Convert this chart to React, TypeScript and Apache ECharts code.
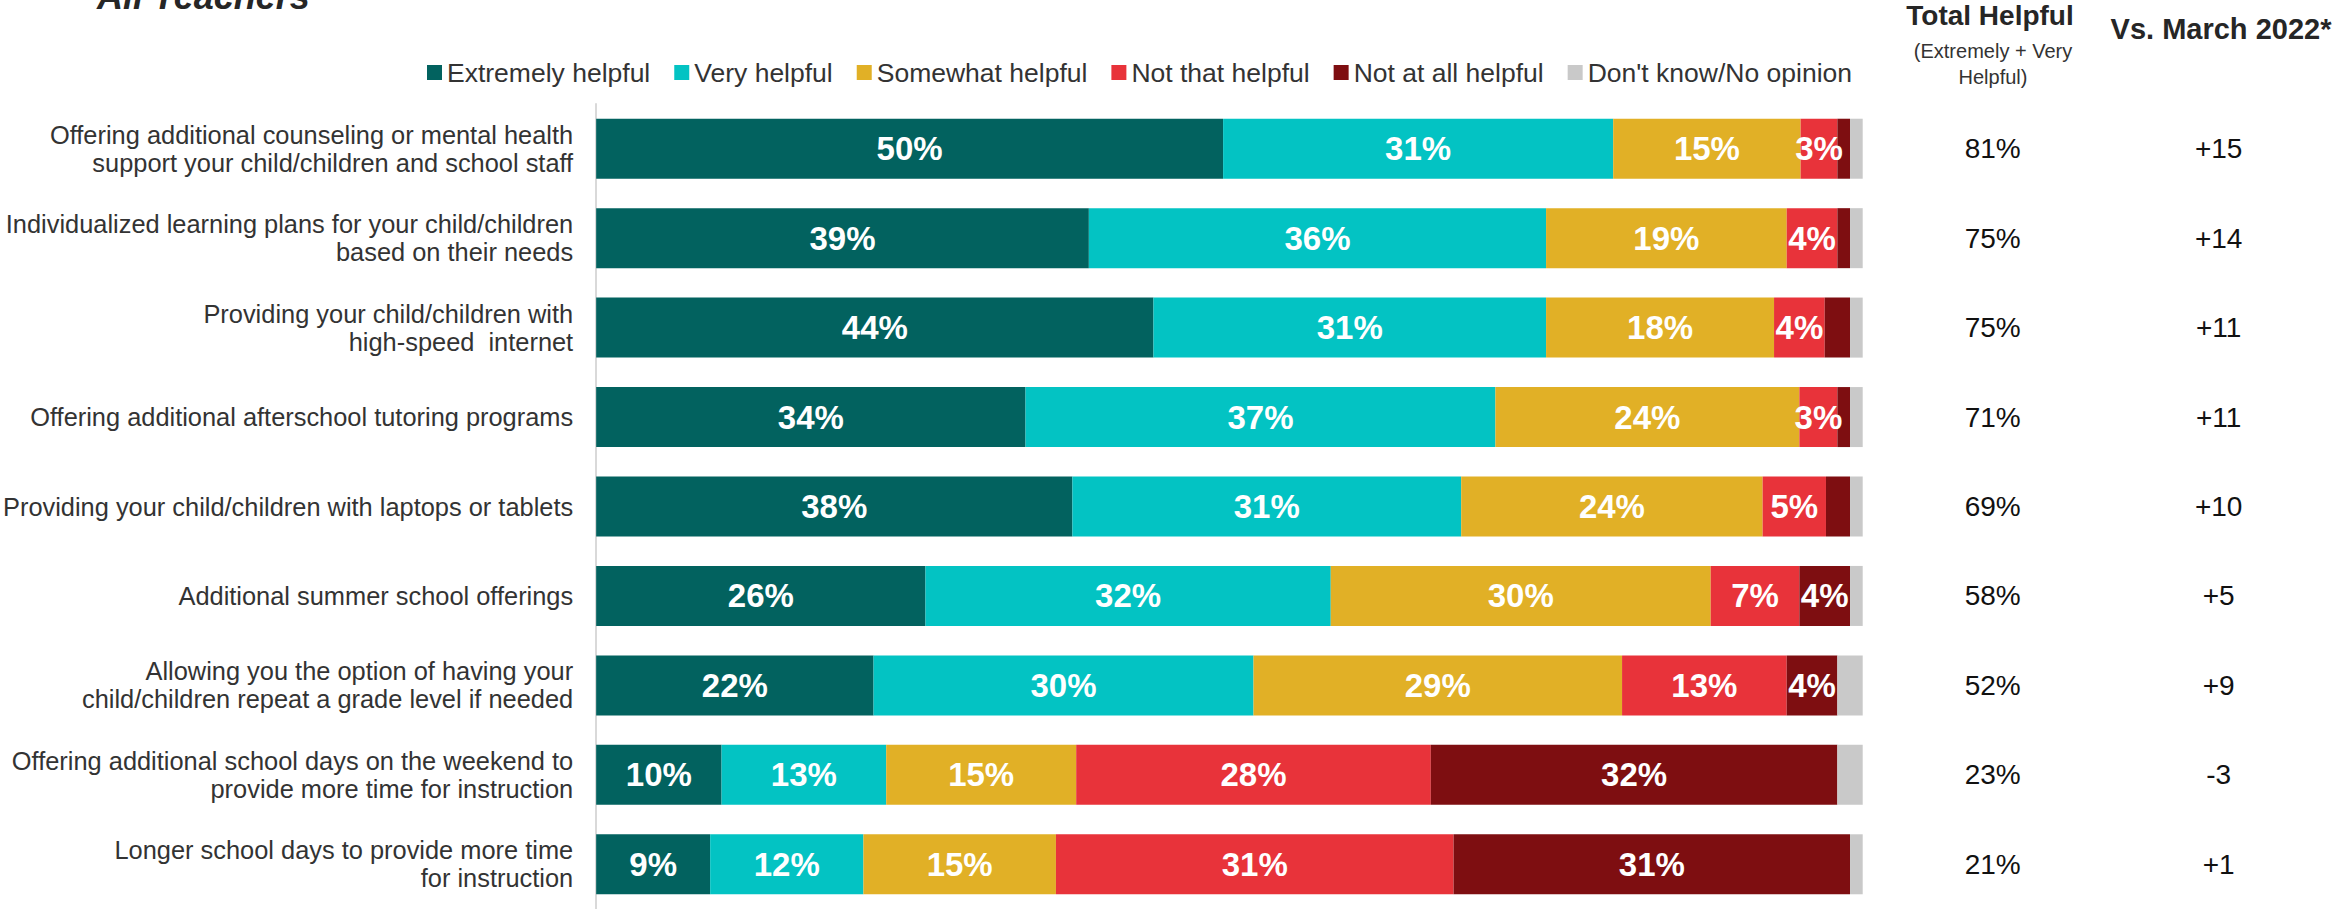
import React, { useEffect, useRef } from "react";
import * as echarts from "echarts";

const categories = [
  "Offering additional counseling or mental health\nsupport your child/children and school staff",
  "Individualized learning plans for your child/children\nbased on their needs",
  "Providing your child/children with\nhigh-speed  internet",
  "Offering additional afterschool tutoring programs",
  "Providing your child/children with laptops or tablets",
  "Additional summer school offerings",
  "Allowing you the option of having your\nchild/children repeat a grade level if needed",
  "Offering additional school days on the weekend to\nprovide more time for instruction",
  "Longer school days to provide more time\nfor instruction",
];

const seriesNames = [
  "Extremely helpful",
  "Very helpful",
  "Somewhat helpful",
  "Not that helpful",
  "Not at all helpful",
  "Don't know/No opinion",
];

const extremely = [49.5, 38.9, 44.0, 33.9, 37.6, 26.0, 21.9, 9.9, 9.0];
const very = [30.8, 36.1, 31.0, 37.1, 30.7, 32.0, 30.0, 13.0, 12.1];
const somewhat = [14.8, 19.0, 18.0, 24.0, 23.8, 30.0, 29.1, 15.0, 15.2];
const notThat = [2.9, 4.0, 4.0, 3.0, 5.0, 7.0, 13.0, 28.0, 31.4];
const notAtAll = [1.0, 1.0, 2.0, 1.0, 1.9, 4.0, 4.0, 32.1, 31.3];
const dontKnow = [1.0, 1.0, 1.0, 1.0, 1.0, 1.0, 2.0, 2.0, 1.0];

const totalHelpful = [81, 75, 75, 71, 69, 58, 52, 23, 21];
const vsMarch = ["+15", "+14", "+11", "+11", "+10", "+5", "+9", "-3", "+1"];

const colors = ["#02625F", "#03C3C3", "#E1B026", "#E8333A", "#7E0E11", "#C9C9C9"];

const FONT = "'Liberation Sans', Arial, Helvetica, sans-serif";

export default function App() {
  const ref = useRef<HTMLDivElement>(null);

  useEffect(() => {
    if (!ref.current) return;
    const chart = echarts.init(ref.current, null, { renderer: "svg" });
    const values = [extremely, very, somewhat, notThat, notAtAll, dontKnow];

    const series = values.map((arr, i) => ({
      name: seriesNames[i],
      type: "bar",
      stack: "total",
      barWidth: 60,
      data: arr,
      itemStyle: { color: colors[i] },
      label: {
        show: i < 5,
        position: "inside",
        color: "#ffffff",
        fontWeight: "bold",
        fontSize: 33,
        fontFamily: FONT,
        formatter: (p: any) => (p.value < 2.5 ? "" : Math.round(p.value) + "%"),
      },
      emphasis: { disabled: true },
    }));

    chart.setOption({
      animation: false,
      textStyle: { fontFamily: FONT },
      legend: {
        data: seriesNames,
        left: 422,
        top: 54,
        itemWidth: 15,
        itemHeight: 15,
        itemGap: 24,
        icon: "rect",
        textStyle: { fontSize: 26.5, color: "#333333", fontFamily: FONT },
        selectedMode: false,
      },
      grid: { left: 596, right: 471.3, top: 104, bottom: -5, containLabel: false },
      xAxis: {
        type: "value",
        min: 0,
        max: 100,
        show: false,
      },
      yAxis: [
        {
          type: "category",
          inverse: true,
          data: categories,
          axisLine: { show: true, lineStyle: { color: "#D9D9D9", width: 2 } },
          axisTick: { show: false },
          axisLabel: {
            fontSize: 25.4,
            lineHeight: 28,
            color: "#333333",
            margin: 23,
            fontFamily: FONT,
          },
        },
        {
          type: "category",
          inverse: true,
          position: "right",
          data: categories,
          axisLine: { show: false },
          axisTick: { show: false },
          axisLabel: {
            fontSize: 28,
            color: "#111111",
            margin: 130,
            align: "center",
            padding: [4, 0, 0, 0],
            fontFamily: FONT,
            formatter: (_v: string, idx: number) => totalHelpful[idx] + "%",
          },
        },
        {
          type: "category",
          inverse: true,
          position: "right",
          data: categories,
          axisLine: { show: false },
          axisTick: { show: false },
          axisLabel: {
            fontSize: 28,
            color: "#111111",
            margin: 356,
            align: "center",
            padding: [4, 0, 0, 0],
            fontFamily: FONT,
            formatter: (_v: string, idx: number) => vsMarch[idx],
          },
        },
      ],
      graphic: [
        {
          type: "text",
          left: 97,
          top: -22,
          style: {
            text: "All Teachers",
            fontSize: 36,
            fontWeight: "bold",
            fontStyle: "italic",
            fill: "#262626",
            fontFamily: FONT,
          },
        },
        {
          type: "text",
          x: 1990,
          y: 15,
          style: {
            text: "Total Helpful",
            fontSize: 28,
            fontWeight: "bold",
            fill: "#262626",
            align: "center",
            verticalAlign: "middle",
            fontFamily: FONT,
          },
        },
        {
          type: "text",
          x: 1993,
          y: 64,
          style: {
            text: "(Extremely + Very\nHelpful)",
            fontSize: 20,
            lineHeight: 26,
            fill: "#333333",
            align: "center",
            verticalAlign: "middle",
            fontFamily: FONT,
          },
        },
        {
          type: "text",
          x: 2221,
          y: 29,
          style: {
            text: "Vs. March 2022*",
            fontSize: 29,
            fontWeight: "bold",
            fill: "#262626",
            align: "center",
            verticalAlign: "middle",
            fontFamily: FONT,
          },
        },
      ],
      series,
    });

    return () => {
      chart.dispose();
    };
  }, []);

  return (
    <div
      ref={ref}
      style={{ position: "absolute", left: 0, top: 0, width: 2334, height: 909, background: "#ffffff" }}
    />
  );
}
